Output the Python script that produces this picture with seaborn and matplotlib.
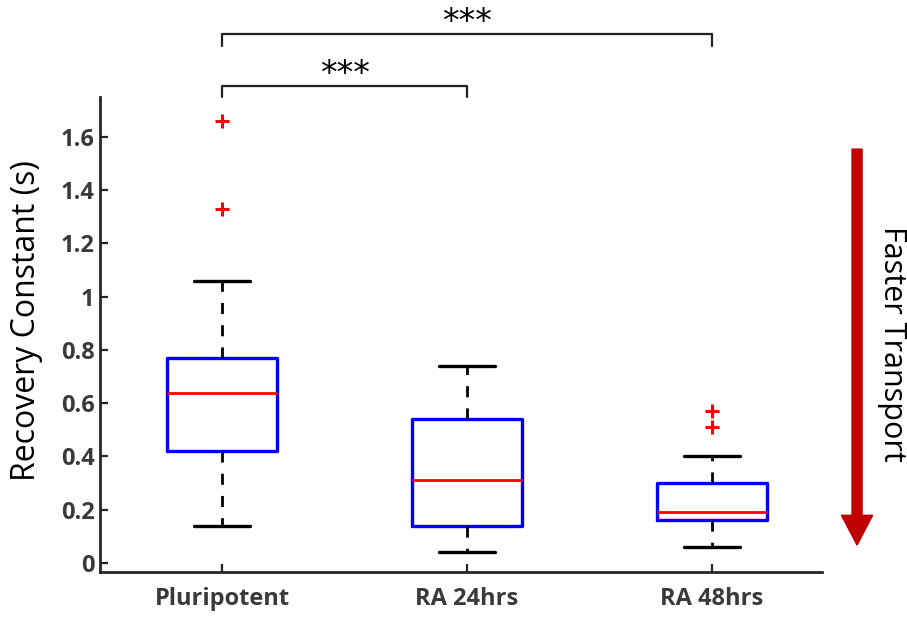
import numpy as np
import pandas as pd
import matplotlib
matplotlib.use("Agg")
import matplotlib.pyplot as plt
import seaborn as sns

# box summary (seconds)
groups = ["Pluripotent", "RA 24hrs", "RA 48hrs"]
whisker_low = [0.14, 0.04, 0.06]
q1 = [0.42, 0.14, 0.16]
median = [0.64, 0.31, 0.19]
q3 = [0.77, 0.54, 0.30]
whisker_high = [1.06, 0.74, 0.40]

outlier_group = ["Pluripotent", "Pluripotent", "RA 48hrs", "RA 48hrs"]
outlier_value = [1.33, 1.66, 0.51, 0.57]

y_ticks = [0, 0.2, 0.4, 0.6, 0.8, 1.0, 1.2, 1.4, 1.6]
y_tick_labels = ["0", "0.2", "0.4", "0.6", "0.8", "1", "1.2", "1.4", "1.6"]

# significance brackets: (left group index, right group index, label)
brackets = [(0, 1, "***"), (0, 2, "***")]

rows = []
for i, g in enumerate(groups):
    for v in (whisker_low[i], q1[i], median[i], q3[i], whisker_high[i]):
        rows.append({"group": g, "value": v})
df = pd.DataFrame(rows)

sns.set_theme(style="ticks")
plt.rcParams["font.family"] = ["Open Sans", "DejaVu Sans"]

fig = plt.figure(figsize=(9.07, 6.17), dpi=100)
ax = fig.add_axes([0.1103, 0.0729, 0.796, 0.770])

sns.boxplot(data=df, x="group", y="value", order=groups, whis=(0, 100),
            width=0.45, fill=False, showfliers=False, ax=ax,
            boxprops=dict(color="#0000ff", linewidth=2.4),
            medianprops=dict(color="#ff0000", linewidth=2.0),
            whiskerprops=dict(color="black", linewidth=2.0, linestyle=(0, (4, 4))),
            capprops=dict(color="black", linewidth=2.4))

sns.stripplot(x=outlier_group, y=outlier_value, order=groups, jitter=False,
              marker="+", color="#ff0000", size=10, linewidth=2.2, ax=ax)

ax.set_xlim(-0.498, 2.449)
ax.set_ylim(-0.034, 1.75)
ax.set_yticks(y_ticks)
ax.set_yticklabels(y_tick_labels)
ax.set_xlabel("")
ax.set_ylabel("Recovery Constant (s)", fontsize=23, color="black")
ax.yaxis.set_label_coords(-0.079, 0.53)

for lbl in ax.get_xticklabels() + ax.get_yticklabels():
    lbl.set_fontweight("bold")
    lbl.set_fontsize(17)
    lbl.set_color("#3a3a3a")

ax.tick_params(direction="in", length=6, width=1.6, color="#262626")
ax.tick_params(axis="y", pad=4)
ax.tick_params(axis="x", pad=11)
sns.despine(ax=ax)
for side in ("left", "bottom"):
    ax.spines[side].set_linewidth(2.0)
    ax.spines[side].set_color("#262626")

# brackets above the axes
levels = [1.79, 1.985]
drop = 0.042
for (a, b, txt), lev in zip(brackets, levels):
    ax.plot([a, a, b, b], [lev - drop, lev, lev, lev - drop], color="#222222",
            linewidth=1.6, clip_on=False)
    ax.text((a + b) / 2, lev + 0.008, txt, ha="center", va="baseline",
            fontsize=24, family="DejaVu Sans", color="black", clip_on=False)

# arrow on the right
ax.arrow(2.592, 1.554, 0, 0.067 - 1.554, width=0.041, head_width=0.127,
         head_length=0.112, length_includes_head=True, color="#c00000",
         clip_on=False)
ax.text(2.735, 0.824, "Faster Transport", rotation=-90, ha="center", va="center",
        fontsize=22, color="black", clip_on=False)

fig.savefig("out.png", dpi=100)
